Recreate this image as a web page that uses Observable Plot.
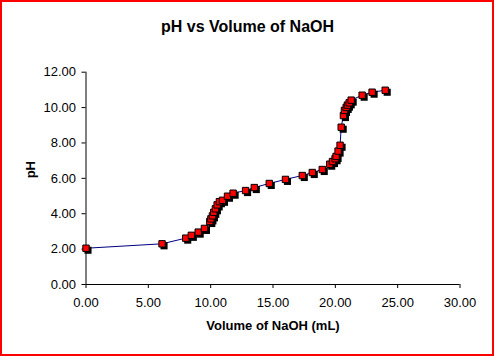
<!DOCTYPE html>
<html>
<head>
<meta charset="utf-8">
<script src="https://cdn.jsdelivr.net/npm/d3@7"></script>
<script src="https://cdn.jsdelivr.net/npm/@observablehq/plot@0.6"></script>
<style>
  html, body { margin: 0; padding: 0; background: #fff; }
  #wrap { position: relative; width: 494px; height: 356px; overflow: hidden; }
  #border { position: absolute; left: 0; top: 0; width: 494px; height: 356px; box-sizing: border-box; border: 2px solid #ff0000; pointer-events: none; }
</style>
</head>
<body>
<div id="wrap"><div id="border"></div></div>
<script>
const title = "pH vs Volume of NaOH";
const xLabel = "Volume of NaOH (mL)";
const yLabel = "pH";
const xTicks = [0, 5, 10, 15, 20, 25, 30];
const yTicks = [0, 2, 4, 6, 8, 10, 12];
const volume = [0.00, 6.10, 8.00, 8.45, 9.00, 9.50, 9.93, 10.02, 10.14, 10.25, 10.38, 10.52, 10.70, 10.95, 11.35, 11.80, 12.80, 13.50, 14.70, 16.00, 17.35, 18.15, 18.95, 19.55, 19.77, 19.98, 20.06, 20.22, 20.38, 20.47, 20.65, 20.73, 20.87, 20.97, 21.11, 21.27, 22.15, 22.95, 24.00];
const pH = [2.05, 2.30, 2.62, 2.78, 2.96, 3.17, 3.56, 3.71, 3.88, 4.08, 4.28, 4.50, 4.68, 4.76, 4.99, 5.16, 5.31, 5.48, 5.71, 5.94, 6.16, 6.33, 6.50, 6.80, 6.95, 7.11, 7.24, 7.54, 7.87, 8.89, 9.55, 9.84, 10.01, 10.14, 10.27, 10.42, 10.70, 10.87, 10.98];

const data = volume.map((v, i) => ({v, p: pH[i]}));
const fmt = d3.format(".2f");
const font = "Arial, 'Liberation Sans', sans-serif";

const chart = Plot.plot({
  width: 494,
  height: 356,
  marginLeft: 85.5,
  marginRight: 34.5,
  marginTop: 71.7,
  marginBottom: 72,
  style: {fontFamily: font, fontSize: "13px", color: "#000", background: "#fff"},
  x: {domain: [0, 30], ticks: xTicks, tickFormat: fmt, label: null},
  y: {domain: [0, 12], ticks: yTicks, tickFormat: fmt, label: null},
  marks: [
    Plot.axisX({ticks: xTicks, tickFormat: fmt, tickSize: 4, tickPadding: 9, label: null, fontSize: 13}),
    Plot.axisY({ticks: yTicks, tickFormat: fmt, tickSize: 4, tickPadding: 6, label: null, fontSize: 13}),
    Plot.ruleX([0], {stroke: "#000", strokeWidth: 1}),
    Plot.ruleY([0], {stroke: "#000", strokeWidth: 1}),
    Plot.line(data, {x: "v", y: "p", stroke: "#000080", strokeWidth: 1}),
    Plot.dot(data, {x: "v", y: "p", symbol: "square", r: 4, fill: "#000", stroke: "none", dx: 2, dy: 2}),
    Plot.dot(data, {x: "v", y: "p", symbol: "square", r: 3.6, fill: "#ff0000", stroke: "#000", strokeWidth: 1}),
    Plot.text([title], {frameAnchor: "top", dx: -25.5, dy: -45, fontSize: 16, fontWeight: "bold", fill: "#000", lineAnchor: "middle"}),
    Plot.text([xLabel], {frameAnchor: "bottom", dy: 41.5, fontSize: 13, fontWeight: "bold", fill: "#000", lineAnchor: "middle"}),
    Plot.text([yLabel], {frameAnchor: "left", dx: -55, rotate: -90, fontSize: 13, fontWeight: "bold", fill: "#000", lineAnchor: "middle"})
  ]
});
document.getElementById("wrap").prepend(chart);
</script>
</body>
</html>
